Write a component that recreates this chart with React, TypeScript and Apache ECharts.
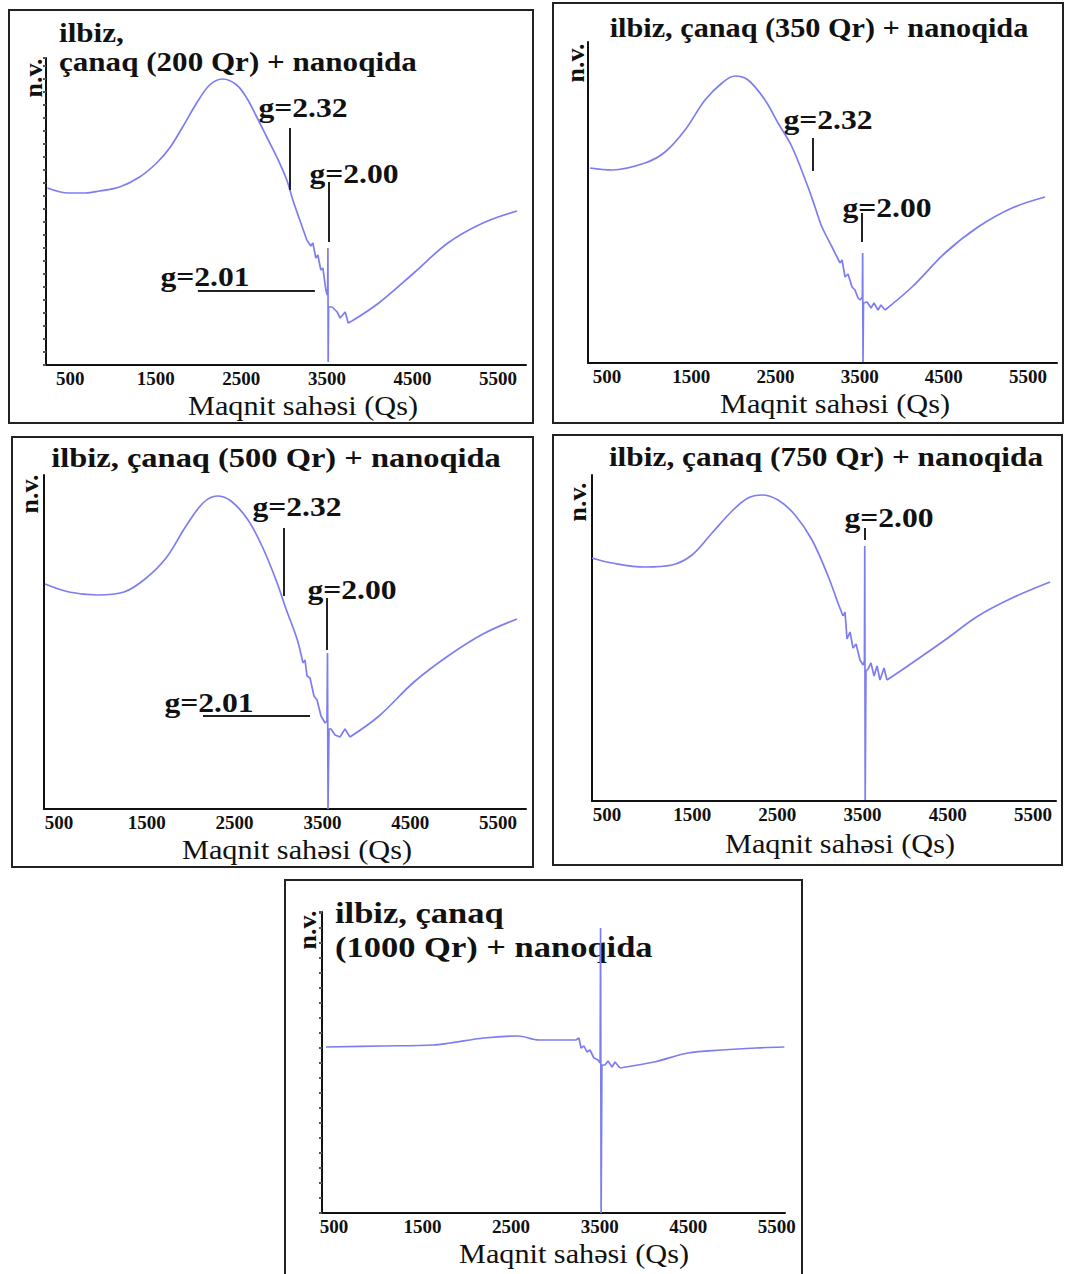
import React, { useEffect, useRef } from "react";
import * as echarts from "echarts";

// ---------- data (field in Qs, signal in arbitrary units) ----------
const xTickLabels = [500, 1500, 2500, 3500, 4500, 5500];

const curve200: [number, number][] = [
  [234, 177], [480, 172], [679, 172], [843, 174], [1077, 178], [1311, 188], [1510, 202],
  [1662, 217], [1814, 238], [1978, 262], [2130, 280], [2282, 286], [2446, 280], [2563, 267],
  [2680, 248], [2797, 228], [2914, 208], [3031, 185], [3102, 165], [3183, 145], [3265, 125],
  [3312, 119], [3336, 122], [3371, 107], [3394, 110], [3429, 95], [3453, 97], [3488, 75],
  [3503, 70], [3509, 72], [3512, 117], [3515, 3], [3520, 58], [3561, 58], [3620, 53],
  [3655, 47], [3714, 53], [3749, 42], [3792, 44], [4107, 62], [4516, 92], [4914, 122],
  [5324, 142], [5722, 154],
];

const curve350: [number, number][] = [
  [298, 195], [559, 193], [951, 200], [1189, 211], [1426, 233], [1664, 263], [1866, 280],
  [2020, 287], [2175, 283], [2376, 263], [2531, 240], [2697, 216], [2887, 176], [2970, 156],
  [3053, 136], [3172, 116], [3267, 100], [3291, 103], [3327, 86], [3362, 89], [3410, 76],
  [3445, 73], [3481, 65], [3505, 63], [3532, 66], [3536, 110], [3540, 1], [3546, 60],
  [3588, 61], [3635, 55], [3671, 60], [3718, 53], [3754, 58], [3801, 53], [4122, 76],
  [4514, 110], [4906, 136], [5310, 155], [5702, 166],
];

const curve500: [number, number][] = [
  [341, 225], [614, 217], [933, 214], [1240, 217], [1480, 230], [1719, 251], [1947, 283],
  [2140, 306], [2300, 313], [2459, 308], [2653, 289], [2812, 263], [2972, 229], [3086, 200],
  [3211, 170], [3279, 146], [3302, 149], [3325, 133], [3359, 131], [3404, 113], [3439, 109],
  [3484, 93], [3530, 86], [3552, 88], [3558, 156], [3564, 0], [3575, 80], [3598, 80],
  [3644, 74], [3700, 72], [3757, 80], [3814, 72], [4145, 93], [4543, 127], [4931, 153],
  [5329, 175], [5716, 190],
];

const curve750: [number, number][] = [
  [324, 243], [559, 238], [946, 234], [1263, 236], [1498, 246], [1733, 268], [1968, 290],
  [2155, 303], [2320, 306], [2508, 301], [2707, 286], [2907, 261], [3095, 225], [3212, 198],
  [3271, 185], [3294, 189], [3318, 162], [3353, 169], [3388, 153], [3424, 157], [3470, 141],
  [3506, 136], [3522, 140], [3526, 255], [3531, 1], [3540, 130], [3564, 132], [3599, 138],
  [3635, 125], [3670, 135], [3705, 121], [3752, 133], [3787, 121], [4081, 138], [4468, 161],
  [4856, 185], [5255, 203], [5701, 219],
];

const curve1000: [number, number][] = [
  [410, 166], [1042, 167], [1618, 168], [1810, 170], [2194, 175], [2577, 177], [2814, 173],
  [3232, 173], [3266, 175], [3289, 165], [3323, 167], [3356, 161], [3390, 163], [3435, 155],
  [3481, 153], [3505, 150], [3510, 285], [3516, 0], [3525, 148], [3560, 148], [3594, 152],
  [3639, 146], [3673, 151], [3729, 145], [4113, 151], [4497, 160], [4881, 163], [5264, 165],
  [5585, 166],
];

// field range of the noisy/hyperfine region around g=2.00 (drawn without smoothing)
const noiseRanges: [number, number][] = [
  [3265, 3792],
  [3267, 3801],
  [3279, 3814],
  [3271, 3787],
  [3232, 3729],
];

// annotation guide lines (data coordinates)
const marks200: [number, number][][] = [
  [[3066, 175], [3066, 237]],
  [[3520, 123], [3520, 183]],
  [[1992, 74], [3360, 74]],
];
const marks350: [number, number][][] = [
  [[2946, 192], [2946, 225]],
  [[3528, 121], [3528, 150]],
];
const marks500: [number, number][][] = [
  [[3063, 213], [3063, 281]],
  [[3553, 159], [3553, 211]],
  [[2140, 93], [3359, 93]],
];
const marks750: [number, number][][] = [[[3529, 261], [3529, 273]]];
const marks1000: [number, number][][] = [];

const titles = [
  ["ilbiz,", "çanaq (200 Qr) + nanoqida"],
  ["ilbiz, çanaq (350 Qr) + nanoqida"],
  ["ilbiz, çanaq (500 Qr) + nanoqida"],
  ["ilbiz, çanaq (750 Qr) + nanoqida"],
  ["ilbiz, çanaq", "(1000 Qr) + nanoqida"],
];
const xAxisTitle = "Maqnit sahəsi (Qs)";
const yAxisTitle = "n.v.";

// ---------- layout ----------
const SERIF = '"Liberation Serif", "Times New Roman", serif';
const LINE_COLOR = "#7d7df2";

type Panel = {
  data: [number, number][];
  marks: [number, number][][];
  grid: { left: number; top: number; width: number; height: number };
  xMin: number;
  xMax: number;
  dottedAxis: number;
  border: [number, number, number, number];
  titlePos: { x: number; y: number; align: string; scaleX: number; lineGap: number };
  gLabels: { text: string; x: number; y: number }[];
  nv: [number, number];
  axisTitle: [number, number];
};

const panels: Panel[] = [
  {
    data: curve200,
    marks: marks200,
    grid: { left: 46, top: 58, width: 480, height: 307 },
    xMin: 217,
    xMax: 5827,
    dottedAxis: 13,
    border: [9, 10, 524, 413],
    titlePos: { x: 59, y: 33, align: "left", scaleX: 1.11, lineGap: 29 },
    gLabels: [
      { text: "g=2.32", x: 303, y: 107 },
      { text: "g=2.00", x: 354, y: 173 },
      { text: "g=2.01", x: 205, y: 276 },
    ],
    nv: [33, 78],
    axisTitle: [303, 405],
  },
  {
    data: curve350,
    marks: marks350,
    grid: { left: 588, top: 42, width: 469, height: 321 },
    xMin: 274,
    xMax: 5844,
    dottedAxis: 0,
    border: [553, 3, 510, 420],
    titlePos: { x: 819, y: 27, align: "center", scaleX: 1.08, lineGap: 0 },
    gLabels: [
      { text: "g=2.32", x: 828, y: 119 },
      { text: "g=2.00", x: 887, y: 207 },
    ],
    nv: [575, 63],
    axisTitle: [835, 403],
  },
  {
    data: curve500,
    marks: marks500,
    grid: { left: 44, top: 475, width: 482, height: 334 },
    xMin: 329,
    xMax: 5819,
    dottedAxis: 0,
    border: [12, 437, 521, 430],
    titlePos: { x: 276, y: 458, align: "center", scaleX: 1.16, lineGap: 0 },
    gLabels: [
      { text: "g=2.32", x: 297, y: 506 },
      { text: "g=2.00", x: 352, y: 589 },
      { text: "g=2.01", x: 209, y: 702 },
    ],
    nv: [29, 494],
    axisTitle: [297, 849],
  },
  {
    data: curve750,
    marks: marks750,
    grid: { left: 592, top: 475, width: 464, height: 326 },
    xMin: 324,
    xMax: 5771,
    dottedAxis: 0,
    border: [553, 435, 509, 430],
    titlePos: { x: 826, y: 457, align: "center", scaleX: 1.12, lineGap: 0 },
    gLabels: [{ text: "g=2.00", x: 889, y: 517 }],
    nv: [577, 502],
    axisTitle: [840, 843],
  },
  {
    data: curve1000,
    marks: marks1000,
    grid: { left: 322, top: 912, width: 463, height: 301 },
    xMin: 365,
    xMax: 5592,
    dottedAxis: 15,
    border: [285, 880, 517, 400],
    titlePos: { x: 335, y: 913, align: "left", scaleX: 1.15, lineGap: 34 },
    gLabels: [],
    nv: [307, 930],
    axisTitle: [574, 1253],
  },
];

function splitCurve(data: [number, number][], range: [number, number]) {
  const [a, b] = range;
  return {
    left: data.filter((d) => d[0] <= a),
    mid: data.filter((d) => d[0] >= a && d[0] <= b),
    right: data.filter((d) => d[0] >= b),
  };
}

function buildOption() {
  const grid: any[] = [];
  const xAxis: any[] = [];
  const yAxis: any[] = [];
  const series: any[] = [];
  const graphic: any[] = [];

  panels.forEach((p, i) => {
    grid.push({ ...p.grid, containLabel: false });
    xAxis.push({
      type: "value",
      gridIndex: i,
      min: p.xMin,
      max: p.xMax,
      axisLine: { show: true, onZero: false, lineStyle: { color: "#111", width: 2 } },
      axisTick: { show: false },
      splitLine: { show: false },
      axisLabel: {
        show: true,
        customValues: xTickLabels,
        formatter: (v: number) => String(Math.round(v)),
        color: "#111",
        fontFamily: SERIF,
        fontWeight: "bold",
        fontSize: 19,
        margin: 4,
      },
    });
    yAxis.push({
      type: "value",
      gridIndex: i,
      min: 0,
      max: p.grid.height,
      interval: p.dottedAxis || undefined,
      axisLine: { show: true, onZero: false, lineStyle: { color: "#111", width: 2 } },
      axisTick: {
        show: p.dottedAxis > 0,
        length: 3,
        lineStyle: { color: "#555", width: 2 },
      },
      axisLabel: { show: false },
      splitLine: { show: false },
    });

    const parts = splitCurve(p.data, noiseRanges[i]);
    const base = {
      type: "line",
      xAxisIndex: i,
      yAxisIndex: i,
      showSymbol: false,
      symbol: "none",
      lineStyle: { color: LINE_COLOR, width: 1.7 },
      z: 3,
    };
    series.push({ ...base, data: parts.left, smooth: 0.35 });
    series.push({
      ...base,
      data: parts.mid,
      smooth: false,
      markLine: {
        silent: true,
        symbol: ["none", "none"],
        label: { show: false },
        lineStyle: { color: "#222", width: 2, type: "solid" },
        data: p.marks.map((m) => [{ coord: m[0] }, { coord: m[1] }]),
      },
    });
    series.push({ ...base, data: parts.right, smooth: 0.35 });

    // border
    const [bx, by, bw, bh] = p.border;
    graphic.push({
      type: "rect",
      shape: { x: bx, y: by, width: bw, height: bh },
      style: { fill: "none", stroke: "#222", lineWidth: 2 },
      silent: true,
    });

    // title lines
    titles[i].forEach((t, k) => {
      graphic.push({
        type: "text",
        x: p.titlePos.x,
        y: p.titlePos.y + k * p.titlePos.lineGap,
        scaleX: p.titlePos.scaleX,
        style: {
          text: t,
          fill: "#111",
          fontFamily: SERIF,
          fontWeight: "bold",
          fontSize: i === 4 ? 30 : 28,
          align: p.titlePos.align,
          verticalAlign: "middle",
          textAlign: p.titlePos.align,
          textVerticalAlign: "middle",
        },
      });
    });

    // g-factor labels
    p.gLabels.forEach((g) => {
      graphic.push({
        type: "text",
        x: g.x,
        y: g.y,
        scaleX: 1.13,
        style: {
          text: g.text,
          fill: "#111",
          fontFamily: SERIF,
          fontWeight: "bold",
          fontSize: 28,
          align: "center",
          verticalAlign: "middle",
          textAlign: "center",
          textVerticalAlign: "middle",
        },
      });
    });

    // y axis name (rotated)
    graphic.push({
      type: "text",
      x: p.nv[0],
      y: p.nv[1],
      rotation: Math.PI / 2,
      style: {
        text: yAxisTitle,
        fill: "#111",
        fontFamily: SERIF,
        fontWeight: "bold",
        fontSize: 26,
        align: "center",
        verticalAlign: "middle",
        textAlign: "center",
        textVerticalAlign: "middle",
      },
    });

    // x axis name
    graphic.push({
      type: "text",
      x: p.axisTitle[0],
      y: p.axisTitle[1],
      scaleX: 1.08,
      style: {
        text: xAxisTitle,
        fill: "#111",
        fontFamily: SERIF,
        fontSize: 28,
        align: "center",
        verticalAlign: "middle",
        textAlign: "center",
        textVerticalAlign: "middle",
      },
    });
  });

  return {
    animation: false,
    backgroundColor: "#ffffff",
    grid,
    xAxis,
    yAxis,
    series,
    graphic: { elements: graphic },
  };
}

export default function App() {
  const ref = useRef<HTMLDivElement>(null);
  useEffect(() => {
    if (!ref.current) return;
    const chart = echarts.init(ref.current, undefined, { renderer: "svg" });
    chart.setOption(buildOption());
    return () => chart.dispose();
  }, []);
  return (
    <div
      ref={ref}
      style={{ position: "absolute", left: 0, top: 0, width: 1066, height: 1274, background: "#fff" }}
    />
  );
}
